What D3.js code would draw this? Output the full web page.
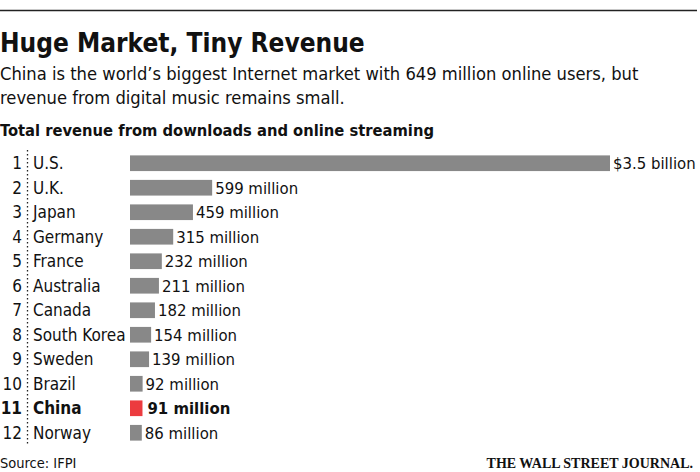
<!DOCTYPE html>
<html><head><meta charset="utf-8">
<script src="https://cdn.jsdelivr.net/npm/d3@7"></script>
<style>
body{margin:0;background:#fff;}
svg{display:block;}
text{font-family:"DejaVu Sans Condensed","Liberation Sans Narrow","Roboto",sans-serif;fill:#111;}
</style></head>
<body><svg id="c" width="700" height="472"></svg>
<script>
const ranks = [1,2,3,4,5,6,7,8,9,10,11,12];
const countries = ["U.S.","U.K.","Japan","Germany","France","Australia","Canada","South Korea","Sweden","Brazil","China","Norway"];
const revenue = [3500,599,459,315,232,211,182,154,139,92,91,86];
const valueLabels = ["$3.5 billion","599 million","459 million","315 million","232 million","211 million","182 million","154 million","139 million","92 million","91 million","86 million"];
const highlight = "China";

const svg = d3.select("#c");
svg.append("line").attr("x1",0).attr("x2",697).attr("y1",10.5).attr("y2",10.5).attr("stroke","#222").attr("stroke-width",1.5);
svg.append("text").attr("x",0).attr("y",52).attr("font-size",26).attr("font-weight","bold").text("Huge Market, Tiny Revenue");
svg.append("text").attr("x",0).attr("y",80).attr("font-size",18.2).text("China is the world\u2019s biggest Internet market with 649 million online users, but");
svg.append("text").attr("x",0).attr("y",104).attr("font-size",18.2).text("revenue from digital music remains small.");
svg.append("text").attr("x",0).attr("y",136).attr("font-size",16.4).attr("font-weight","bold").text("Total revenue from downloads and online streaming");

const y = d3.scaleBand().domain(countries).range([150,446]).paddingInner(0.36).paddingOuter(0.22);
const x = d3.scaleLinear().domain([0,3500]).range([130,610]);

svg.append("line").attr("x1",27.5).attr("x2",27.5).attr("y1",150).attr("y2",446)
  .attr("stroke","#222").attr("stroke-width",1.3).attr("stroke-dasharray","1.5,2.5");

const g = svg.append("g");
countries.forEach((c,i)=>{
  const cy = y(c)+y.bandwidth()/2;
  const hl = c===highlight;
  g.append("text").attr("x",22).attr("y",cy).attr("dy","0.35em").attr("text-anchor","end")
   .attr("font-size",17).attr("font-weight",hl?"bold":"normal").text(ranks[i]);
  g.append("text").attr("x",33).attr("y",cy).attr("dy","0.35em")
   .attr("font-size",17).attr("font-weight",hl?"bold":"normal").text(c);
  g.append("rect").attr("x",x(0)).attr("y",y(c)).attr("width",x(revenue[i])-x(0)).attr("height",y.bandwidth())
   .attr("fill",hl?"#ec3b3f":"#888888");
  g.append("text").attr("x",x(revenue[i])+(hl?5:3)).attr("y",cy).attr("dy","0.35em")
   .attr("font-size",16.6).attr("font-weight",hl?"bold":"normal").text(valueLabels[i]);
});

svg.append("text").attr("x",0).attr("y",468).attr("font-size",14.5).text("Source: IFPI");
svg.append("text").attr("x",693).attr("y",468).attr("text-anchor","end").attr("font-size",14)
  .attr("font-weight","bold").style("font-family","'Liberation Serif','DejaVu Serif',serif").text("THE WALL STREET JOURNAL.");
</script></body></html>
